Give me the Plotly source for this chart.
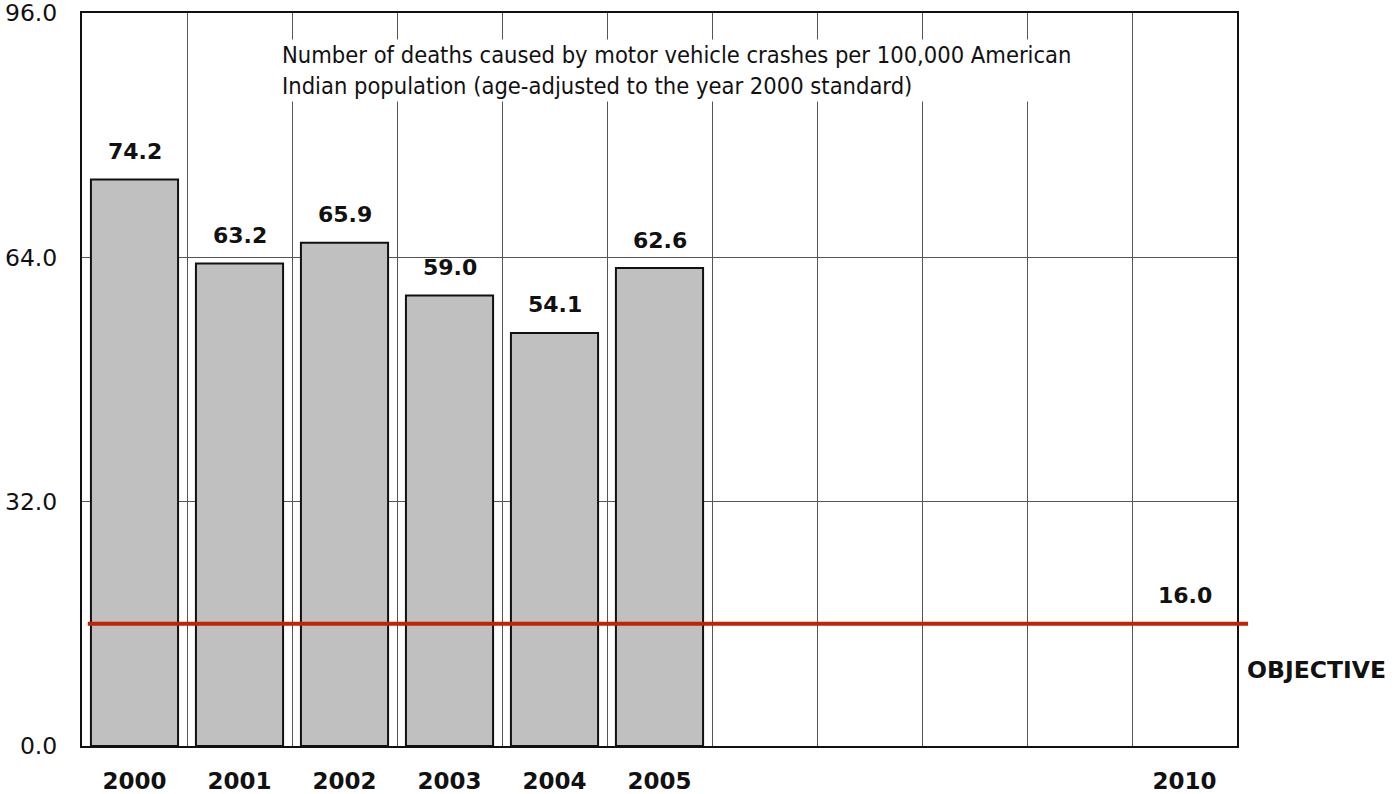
import plotly.graph_objects as go

# data
years = ["2000", "2001", "2002", "2003", "2004", "2005",
         "2006", "2007", "2008", "2009", "2010"]
year_labels = ["2000", "2001", "2002", "2003", "2004", "2005",
               "", "", "", "", "2010"]
bar_years = ["2000", "2001", "2002", "2003", "2004", "2005"]
deaths = [74.2, 63.2, 65.9, 59.0, 54.1, 62.6]
objective = 16.0
objective_year = "2010"
y_ticks = [0, 32, 64, 96]
note = ("Number of deaths caused by motor vehicle crashes per 100,000 American<br>"
        "Indian population (age-adjusted to the year 2000 standard)")

font_main = "Verdana, DejaVu Sans, sans-serif"

fig = go.Figure()
fig.add_trace(go.Bar(
    x=bar_years, y=deaths, width=0.83,
    marker=dict(color="#c0c0c0", line=dict(color="#111", width=2)),
    hoverinfo="x+y", showlegend=False,
))

# value labels above bars (category index as x)
for yr, v in zip(bar_years, deaths):
    fig.add_annotation(x=years.index(yr), y=v, text=f"<b>{v:.1f}</b>", showarrow=False,
                       yshift=28, font=dict(size=22, color="#111", family=font_main))

# objective line
fig.add_shape(type="line", xref="paper", yref="y", x0=0.005, x1=1.0095,
              y0=objective, y1=objective, line=dict(color="#c02408", width=4))
fig.add_annotation(x=years.index(objective_year), y=objective,
                   text=f"<b>{objective:.1f}</b>", showarrow=False, yshift=28,
                   font=dict(size=22, color="#111", family=font_main))
fig.add_annotation(xref="paper", yref="y", x=1.0095, y=objective, yshift=-46,
                   xanchor="left", xshift=-3, text="<b>OBJECTIVE</b>", showarrow=False,
                   font=dict(size=23.5, color="#111", family=font_main))

fig.add_annotation(xref="paper", yref="paper", x=0.171, y=0.965, xanchor="left",
                   yanchor="top", align="left", text=note, showarrow=False,
                   bgcolor="white",
                   font=dict(size=23.5, color="#111",
                             family="Liberation Sans Narrow, DejaVu Sans Condensed, sans-serif"))

fig.update_layout(
    width=1397, height=794,
    margin=dict(l=82, r=160, t=13, b=48, autoexpand=False),
    plot_bgcolor="white", paper_bgcolor="white",
    font=dict(family=font_main, color="#111"),
)
fig.update_xaxes(
    type="category", categoryorder="array", categoryarray=years,
    range=[-0.5, 10.5], tickmode="array", tickvals=years,
    ticktext=[f"<b>{t}</b>" if t else "" for t in year_labels],
    tickson="boundaries", ticks="", showgrid=True, gridcolor="#555", gridwidth=1,
    showline=True, linecolor="#111", linewidth=2, mirror=True, automargin=False,
    tickfont=dict(size=23, family=font_main), ticklabelstandoff=13,
)
fig.update_yaxes(
    range=[0, 96], tickmode="array", tickvals=y_ticks,
    ticktext=[f"{t:.1f}" for t in y_ticks],
    showgrid=True, gridcolor="#555", gridwidth=1, zeroline=False,
    showline=True, linecolor="#111", linewidth=2, mirror=True, automargin=False,
    tickfont=dict(size=23.5, family=font_main), ticks="", ticklabelstandoff=18,
    ticklabeloverflow="allow",
)

# drop the default 8px body margin so the figure fills the window exactly
fig.write_html("out.html", config={"displayModeBar": False},
               post_script="document.body.style.margin='0';")
